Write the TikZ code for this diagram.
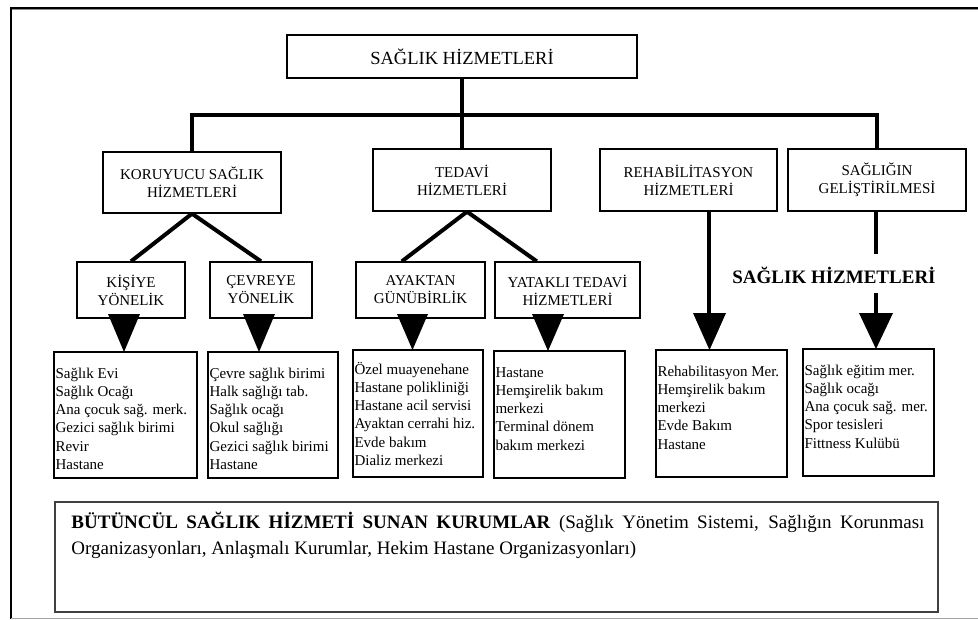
\documentclass[tikz,border=0pt]{standalone}
\usepackage{fontspec}
\setmainfont{Liberation Serif}
\usetikzlibrary{calc}
\begin{document}
\begin{tikzpicture}[x=1pt,y=-1pt,
  box/.style={draw=black, line width=1.3pt, rectangle, inner sep=0pt, align=center,
    font=\fontsize{15}{18}\selectfont},
  listbox/.style={draw=black, line width=1.3pt, rectangle, inner sep=0pt},
  listtxt/.style={anchor=north west, inner sep=0pt, align=left,
    font=\fontsize{15}{18.3}\selectfont},
  link/.style={line width=4pt, line join=miter},
  tipfill/.style={fill=black}
]
\useasboundingbox (0,0) rectangle (978,619);
% page frame
\draw[black!45, line width=0.8pt] (11,9.8) -- (978,9.8);
\draw[line width=2pt] (10,7.5) -- (978,7.5);
\draw[line width=1.5pt] (11,7) -- (11,619);
\draw[black!35, line width=1pt] (11,618) -- (978,618);

% level 1
\node[box, minimum width=350, minimum height=43, font=\fontsize{18.5}{22}\selectfont] (main) at (462,56.5) {SAĞLIK HİZMETLERİ};
% level 2
\node[box, minimum width=178, minimum height=61] (kor) at (192,182.5) {KORUYUCU SAĞLIK\\HİZMETLERİ};
\node[box, minimum width=178, minimum height=62] (ted) at (462,180) {TEDAVİ\\HİZMETLERİ};
\node[box, minimum width=177, minimum height=62] (reh) at (688.5,180) {REHABİLİTASYON\\HİZMETLERİ};
\node[box, minimum width=178, minimum height=62] (gel) at (877,180) {SAĞLIĞIN\\GELİŞTİRİLMESİ};
% level 3
\node[box, minimum width=108, minimum height=56] (kis) at (131,290) {KİŞİYE\\YÖNELİK};
\node[box, minimum width=102, minimum height=56] (cev) at (261,290) {ÇEVREYE\\YÖNELİK};
\node[box, minimum width=129, minimum height=56] (ayk) at (420.5,290) {AYAKTAN\\GÜNÜBİRLİK};
\node[box, minimum width=145, minimum height=56] (yat) at (567.5,290) {YATAKLI TEDAVİ\\HİZMETLERİ};
% label between lines
\node[inner sep=0pt, font=\bfseries\fontsize{19}{22}\selectfont] (sh) at (834,275) {SAĞLIK HİZMETLERİ};

% list boxes
\node[listbox, minimum width=143, minimum height=126] (l1) at (125.5,415) {};
\node[listbox, minimum width=130, minimum height=126] (l2) at (273,415) {};
\node[listbox, minimum width=130, minimum height=127] (l3) at (418,413.5) {};
\node[listbox, minimum width=131, minimum height=127] (l4) at (559.5,414.5) {};
\node[listbox, minimum width=131, minimum height=127] (l5) at (721.5,413.5) {};
\node[listbox, minimum width=131, minimum height=127] (l6) at (868.5,412.5) {};

\node[listtxt] (l1t) at ($(l1.north west)+(2,13)$) {\rule{0pt}{13.5pt}Sağlık Evi\\Sağlık Ocağı\\Ana çocuk sağ. merk.\\Gezici sağlık birimi\\Revir\\Hastane};
\node[listtxt] (l2t) at ($(l2.north west)+(2,13)$) {\rule{0pt}{13.5pt}Çevre sağlık birimi\\Halk sağlığı tab.\\Sağlık ocağı\\Okul sağlığı\\Gezici sağlık birimi\\Hastane};
\node[listtxt] (l3t) at ($(l3.north west)+(2,11)$) {\rule{0pt}{13.5pt}Özel muayenehane\\Hastane polikliniği\\Hastane acil servisi\\Ayaktan cerrahi hiz.\\Evde bakım\\Dializ merkezi};
\node[listtxt] (l4t) at ($(l4.north west)+(2,13)$) {\rule{0pt}{13.5pt}Hastane\\Hemşirelik bakım\\merkezi\\Terminal dönem\\bakım merkezi};
\node[listtxt] (l5t) at ($(l5.north west)+(2,13)$) {\rule{0pt}{13.5pt}Rehabilitasyon Mer.\\Hemşirelik bakım\\merkezi\\Evde Bakım\\Hastane};
\node[listtxt] (l6t) at ($(l6.north west)+(2,13)$) {\rule{0pt}{13.5pt}Sağlık eğitim mer.\\Sağlık ocağı\\Ana çocuk sağ. mer.\\Spor tesisleri\\Fittness Kulübü};

% bottom box
\node[draw=black!75, line width=1.5pt, rectangle, inner sep=0pt, minimum width=883, minimum height=110] (bb) at (496.5,557) {};
\node[anchor=north west, inner sep=0pt, text width=853, align=justify, font=\fontsize{19}{26}\selectfont] (bbt) at ($(bb.north west)+(17,11)$)
  {\hyphenpenalty=10000\textbf{BÜTÜNCÜL SAĞLIK HİZMETİ SUNAN KURUMLAR} (Sağlık Yönetim Sistemi, Sağlığın Korunması\linebreak Organizasyonları, Anlaşmalı Kurumlar, Hekim Hastane Organizasyonları)};

% connectors
\coordinate (bar) at (462,115);
\draw[link] (main.south) -- (ted.north);
\draw[link] (kor.north) -- (kor.north |- bar) -- (gel.north |- bar) -- (gel.north);
\draw[link] ($(reh.north west)!0.47!(reh.north east)$ |- bar) -- ($(reh.north west)!0.47!(reh.north east)$);
\draw[link] (kor.south) -- (kis.north);
\draw[link] (kor.south) -- (cev.north);
\draw[link] ($(ted.south west)!0.528!(ted.south east)$) -- ($(ayk.north west)!0.357!(ayk.north east)$);
\draw[link] ($(ted.south west)!0.528!(ted.south east)$) -- ($(yat.north west)!0.29!(yat.north east)$);
\draw[link] ($(reh.south west)!0.616!(reh.south east)$) -- ++(0,103);
\draw[link] (gel.south -| 876,0) -- (876,254);
\draw[link] (876,293) -- (876,315);

% arrow heads
\fill[tipfill] (108,314) -- (140,314) -- (124,352) -- cycle;
\fill[tipfill] (243,314) -- (275,314) -- (259,352) -- cycle;
\fill[tipfill] (397,314) -- (428,314) -- (412.5,350) -- cycle;
\fill[tipfill] (532,314) -- (564,314) -- (548,351) -- cycle;
\fill[tipfill] (693,313) -- (726,313) -- (709.5,350) -- cycle;
\fill[tipfill] (859,313) -- (893,313) -- (876,349) -- cycle;
\end{tikzpicture}
\end{document}
